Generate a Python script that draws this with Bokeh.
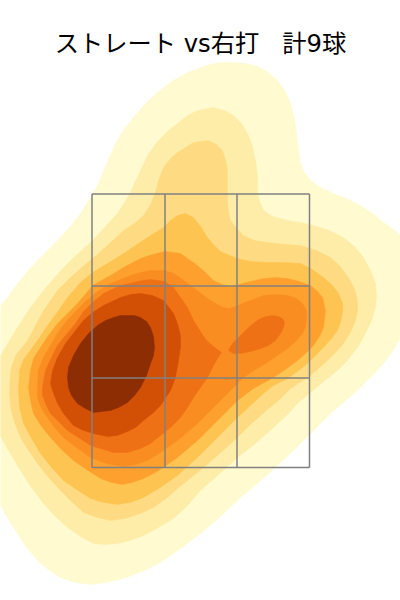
from bokeh.plotting import figure
from bokeh.models import Label, Range1d
from bokeh.embed import file_html
from bokeh.resources import INLINE

TITLE = "ストレート vs右打\u00a0\u00a0\u00a0計9球"

zone_x = [91.5, 164.5, 236.5, 309]
zone_y = [193.5, 285.5, 377.5, 467]

level_colors = ["#FFFAD0", "#FEEDA8", "#FEDB82", "#FEC452", "#FEA02E", "#F98D22", "#EF7116", "#D25005", "#8C2D04"]

level1 = [(233,62),(246,63),(257,66),(268,72),(277,80),(285,91),(290,103),(294,118),(296,133),(298,150),(300,163),(304,172),(310,180),(320,187),(333,193),(346,198),(360,205),(372,213),(383,222),(392,228),(400,235),(408,243),(408,330),(400,338),(392,351),(383,363),(370,377),(357,390),(343,402),(330,413),(310,433),(294,449),(277,465),(258,482),(240,497),(220,516),(200,533),(180,548),(160,562),(142,571),(123,578),(106,582),(90,584),(74,582),(60,577),(49,570),(40,563),(31,553),(23,543),(10,522),(0,505),(-8,492),(-8,315),(0,305),(7,297),(17,283),(27,271),(37,260),(47,250),(57,240),(69,227),(80,213),(89,199),(97,185),(105,166),(113,147),(122,131),(133,117),(144,104),(157,92),(171,81),(187,72),(200,67),(213,63),(223,62)]
level2 = [(213,107),(224,110),(233,115),(241,123),(247,133),(252,146),(255,160),(257,175),(257,190),(259,201),(263,210),(272,216),(287,220),(300,222),(313,225),(329,230),(343,237),(354,246),(363,257),(370,270),(375,283),(376,295),(375,307),(371,320),(365,333),(357,347),(347,360),(337,370),(327,378),(310,392),(298,402),(287,414),(273,427),(255,443),(237,457),(217,475),(200,490),(187,505),(173,518),(158,527),(143,535),(130,540),(117,543),(105,544),(93,543),(80,536),(67,527),(55,516),(43,503),(31,487),(20,470),(8,450),(0,436),(-8,425),(-8,365),(0,355),(5,347),(15,330),(28,310),(43,290),(55,276),(67,263),(80,251),(92,240),(105,226),(117,213),(124,202),(130,192),(139,172),(147,155),(157,141),(168,130),(177,123),(187,115),(197,110)]
level3 = [(208,140),(216,144),(222,150),(225,159),(227,170),(227,185),(227,200),(228,211),(230,220),(236,228),(243,235),(254,240),(267,242),(285,244),(300,245),(316,250),(330,257),(340,266),(348,277),(354,288),(357,300),(357,311),(355,320),(350,332),(343,343),(335,352),(327,360),(310,375),(290,388),(278,400),(267,409),(250,424),(237,437),(217,455),(197,472),(177,488),(167,497),(153,507),(140,513),(125,518),(110,520),(97,517),(83,512),(71,501),(60,490),(48,477),(37,463),(28,450),(20,437),(14,422),(10,407),(9,393),(10,370),(15,355),(27,340),(35,325),(43,310),(50,300),(57,290),(70,277),(80,268),(92,258),(108,244),(123,230),(135,222),(143,215),(150,204),(155,192),(158,180),(163,167),(170,158),(177,152),(193,142)]
level4 = [(185,213),(193,217),(200,226),(207,237),(213,244),(220,251),(227,254),(237,258),(250,261),(267,262),(285,262),(300,263),(312,269),(323,277),(332,285),(338,293),(342,303),(342,312),(340,322),(337,330),(331,338),(323,347),(315,355),(307,363),(297,371),(287,378),(273,385),(263,393),(250,405),(237,417),(217,437),(197,457),(177,475),(163,485),(150,493),(143,497),(130,502),(117,504),(103,502),(90,498),(76,489),(63,480),(51,467),(40,453),(31,438),(23,423),(19,407),(18,390),(19,370),(23,359),(29,351),(37,340),(47,325),(58,310),(67,297),(80,282),(92,272),(107,263),(123,253),(135,245),(147,237),(163,227),(170,220),(177,215)]
level5 = [(164,251),(173,252),(180,253),(190,260),(197,265),(205,272),(213,280),(222,284),(230,286),(250,281),(263,278),(275,277),(287,278),(299,281),(310,285),(317,291),(322,297),(325,310),(323,327),(319,336),(313,345),(305,353),(297,360),(285,369),(273,377),(262,383),(253,388),(237,400),(217,420),(197,440),(177,457),(167,464),(155,472),(143,478),(132,482),(122,484),(111,482),(100,478),(86,469),(73,460),(61,449),(50,437),(41,426),(33,413),(30,400),(28,387),(30,370),(33,358),(40,347),(48,335),(57,323),(67,313),(75,305),(83,296),(92,285),(110,275),(123,267),(140,258),(152,254)]
level6 = [(150,270),(157,270),(164,270),(173,273),(182,279),(190,285),(198,291),(207,298),(217,304),(223,307),(230,308),(237,305),(250,300),(263,295),(275,294),(287,295),(296,298),(302,303),(306,310),(306,317),(305,326),(302,333),(295,341),(287,348),(277,355),(267,362),(255,369),(243,377),(237,383),(227,393),(217,403),(197,423),(177,440),(167,447),(160,452),(147,460),(135,464),(123,466),(106,463),(90,457),(76,447),(63,437),(54,427),(47,417),(41,408),(37,397),(37,387),(38,370),(43,357),(50,345),(57,333),(65,322),(73,313),(83,303),(92,295),(100,289),(110,283),(120,279),(130,275),(140,272)]
level7a = [(150,279),(158,280),(164,281),(173,287),(180,297),(187,307),(193,320),(200,331),(206,340),(213,346),(221,352),(217,358),(213,365),(207,377),(200,387),(193,397),(187,407),(180,417),(170,427),(160,435),(150,443),(140,448),(127,452),(113,452),(100,448),(90,445),(78,437),(67,430),(58,421),(50,413),(45,403),(42,395),(42,387),(45,370),(51,357),(57,345),(65,335),(75,323),(83,311),(92,302),(103,293),(120,285),(133,282),(142,280)]
level7b = [(272,315),(278,316),(282,318),(284,322),(283,327),(280,333),(275,340),(268,345),(260,348),(250,351),(240,353),(233,353),(228,350),(230,346),(233,342),(240,335),(247,328),(254,322),(260,318),(266,316)]
level8 = [(140,293),(152,295),(163,300),(173,313),(177,323),(180,335),(180,347),(178,360),(175,377),(170,390),(160,405),(153,412),(143,420),(135,427),(127,431),(117,435),(107,436),(93,433),(83,430),(73,425),(63,413),(57,403),(52,390),(50,383),(52,370),(57,357),(65,343),(75,330),(83,320),(92,312),(103,305),(120,297),(130,294)]
level9 = [(127,315),(134,315),(140,317),(146,321),(150,327),(153,336),(154,347),(153,355),(150,363),(146,375),(140,387),(134,395),(127,402),(118,407),(110,410),(101,411),(93,412),(85,408),(77,403),(71,395),(68,387),(67,377),(68,367),(73,355),(80,343),(88,333),(97,325),(105,320),(113,317),(120,315)]

outlines = [level1, level2, level3, level4, level5, level6, level7a, level7b, level8, level9]
outline_colors = level_colors[:7] + [level_colors[6]] + level_colors[7:]

p = figure(width=400, height=600, output_backend="svg", toolbar_location=None,
           x_axis_type=None, y_axis_type=None, min_border=0,
           x_range=Range1d(0, 400), y_range=Range1d(600, 0),
           outline_line_color=None, background_fill_color="white")

for pts, col in zip(outlines, outline_colors):
    p.patch([a for a, _ in pts], [b for _, b in pts], fill_color=col, line_color=col, line_width=0.5)

p.segment(x0=zone_x, y0=[zone_y[0]] * 4, x1=zone_x, y1=[zone_y[-1]] * 4, line_color="#808080", line_width=1.5)
p.segment(x0=[zone_x[0]] * 4, y0=zone_y, x1=[zone_x[-1]] * 4, y1=zone_y, line_color="#808080", line_width=1.5)

p.add_layout(Label(x=200, y=43, text=TITLE, text_align="center", text_baseline="middle",
                   text_font="DejaVu Sans, Noto Sans CJK JP", text_font_size="24.25px", text_color="#000000"))

open("out.html", "w").write(file_html(p, INLINE))
